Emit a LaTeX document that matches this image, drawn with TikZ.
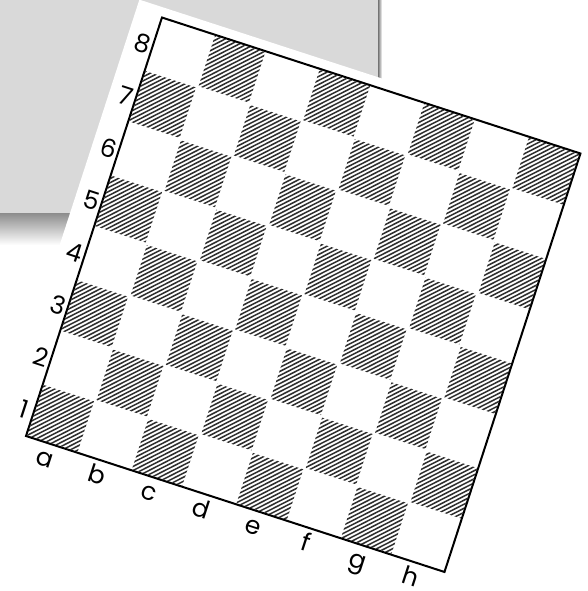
\documentclass[tikz,border=0pt]{standalone}
\usepackage{fontspec}
\setmainfont{Poppins}
\definecolor{boxgray}{HTML}{D9D9D9}
\definecolor{hatchcol}{HTML}{2E2E2E}
\tikzset{
  hatchline/.style={draw=hatchcol, line width=1.5pt},
  boardframe/.style={draw=black, line width=2pt},
  lbl/.style={inner sep=0pt, transform shape, font=\fontsize{25}{30}\selectfont}
}
\begin{document}
\begin{tikzpicture}[x=1pt,y=1pt]
\useasboundingbox (0,0) rectangle (587,591);
% gray panel with shadow
\shade[top color=black!45, bottom color=white] (0,346) rectangle (381,378);
\shade[left color=black!55, right color=white] (378,346) rectangle (382,591);
\fill[boxgray] (0,378) rectangle (378,591);
\begin{scope}[shift={(26,155)}, rotate=-18]
  % paper
  \fill[white] (-27,-55) rectangle (452,450);
  % hatched dark squares
  \begin{scope}
    \clip \foreach \j in {0,...,7}{ \foreach \i in {0,...,3}{
      ({(2*\i+mod(\j,2))*55+1},{\j*55+1}) rectangle ++(53,53) } };
    \foreach \k in {-88,...,88}
      \draw[hatchline] ({\k*5.1},0) -- ++(440,440);
  \end{scope}
  \draw[boardframe] (0,0) rectangle (440,440);
  % rank labels
  \foreach \r [count=\n from 0] in {1,...,8}
    \node[lbl] (rank\r) at (-10,{\n*55+24.5}) {\r};
  % file labels
  \foreach \f [count=\n from 0] in {a,b,c,d,e,f,g,h}
    \node[lbl, anchor=base] (file\f) at ({\n*55+24.5},-23.5) {\f};
\end{scope}
\end{tikzpicture}
\end{document}
